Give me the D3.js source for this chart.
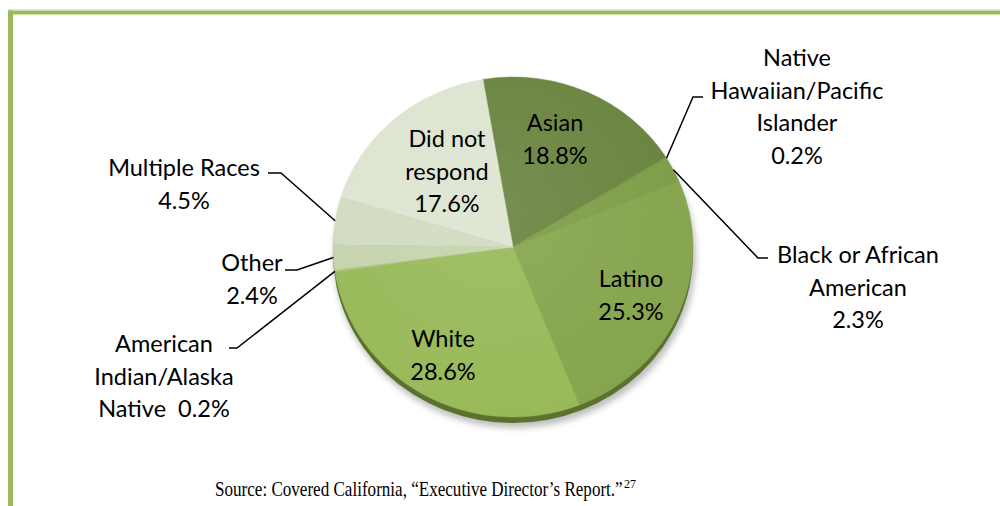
<!DOCTYPE html>
<html>
<head>
<meta charset="utf-8">
<script src="https://cdn.jsdelivr.net/npm/d3@7/dist/d3.min.js"></script>
<style>
  html, body { margin: 0; padding: 0; background: #ffffff; }
  svg { display: block; }
</style>
</head>
<body>
<svg id="chart" width="1000" height="506"></svg>
<script>
// ---- data ----
const categories = ["Asian", "Native Hawaiian/Pacific Islander", "Black or African American", "Latino", "White",
                    "American Indian/Alaska Native", "Other", "Multiple Races", "Did not respond"];
const values = [18.8, 0.2, 2.3, 25.3, 28.6, 0.2, 2.4, 4.5, 17.6];
const valueLabels = ["18.8%", "0.2%", "2.3%", "25.3%", "28.6%", "0.2%", "2.4%", "4.5%", "17.6%"];
const sourceText = "Source: Covered California, \u201cExecutive Director\u2019s Report.\u201d";
const sourceNote = "27";

// ---- styling / layout ----
const colors = ["#6b8541", "#7d9c49", "#7f9e4a", "#87a64f", "#9aba5b", "#a9c36f", "#c6d4ae", "#d1dcc1", "#dde5d1"];
const W = 1000, H = 506;
const cx = 513, cy = 247, rx = 180, ry = 170, depth = 6;
const startAngle = -9.6 * Math.PI / 180;
const fontFamily = "Lato, 'Open Sans', sans-serif";
const fontSize = 23.5;

// label layout: inside labels (lines with baselines) and outside labels with leader elbows
const labelLayout = {
  "Asian": { inside: true, x: 555, y: 131, lines: ["Asian", "18.8%"] },
  "Did not respond": { inside: true, x: 447, y: 147, lines: ["Did not", "respond", "17.6%"] },
  "Latino": { inside: true, x: 631, y: 287, lines: ["Latino", "25.3%"] },
  "White": { inside: true, x: 443, y: 347, lines: ["White", "28.6%"] },
  "Native Hawaiian/Pacific Islander": { x: 797, y: 66, lines: ["Native", "Hawaiian/Pacific", "Islander", "0.2%"], elbow: [[693, 97], [703, 97]] },
  "Black or African American": { x: 858, y: 263, lines: ["Black or African", "American", "2.3%"], elbow: [[758, 258], [768, 258]] },
  "Multiple Races": { x: 184, y: 176, lines: ["Multiple Races", "4.5%"], elbow: [[281, 173], [268, 173]] },
  "Other": { x: 252, y: 271, lines: ["Other", "2.4%"], elbow: [[297, 270], [285, 270]] },
  "American Indian/Alaska Native": { x: 164, y: 352, lines: ["American", "Indian/Alaska", "Native\u00a0 0.2%"], elbow: [[237, 348], [229, 348]] }
};
const lineGap = 32.5;

const svg = d3.select("#chart");
const defs = svg.append("defs");

// shadow filter
const f = defs.append("filter").attr("id", "shadow").attr("x", "-20%").attr("y", "-20%").attr("width", "140%").attr("height", "140%");
f.append("feGaussianBlur").attr("stdDeviation", 3);

// gentle lighting overlay
const rg = defs.append("radialGradient").attr("id", "shine")
  .attr("cx", "45%").attr("cy", "40%").attr("r", "65%");
rg.append("stop").attr("offset", "0%").attr("stop-color", "#ffffff").attr("stop-opacity", 0.08);
rg.append("stop").attr("offset", "80%").attr("stop-color", "#ffffff").attr("stop-opacity", 0.0);
rg.append("stop").attr("offset", "100%").attr("stop-color", "#000000").attr("stop-opacity", 0.03);

// ---- frame ----
svg.append("line").attr("x1", 8).attr("x2", W).attr("y1", 9.5).attr("y2", 9.5)
  .attr("stroke", "#dfe9cc").attr("stroke-width", 1);
svg.append("line").attr("x1", 8).attr("x2", W).attr("y1", 12.5).attr("y2", 12.5)
  .attr("stroke", "#9bbb59").attr("stroke-width", 4);
svg.append("line").attr("x1", 10.5).attr("x2", 10.5).attr("y1", 10.5).attr("y2", H)
  .attr("stroke", "#9bbb59").attr("stroke-width", 5);

// ---- pie ----
const data = categories.map((c, i) => ({ name: c, value: values[i], color: colors[i], label: valueLabels[i] }));
const pie = d3.pie().sort(null).value(d => d.value)
  .startAngle(startAngle).endAngle(startAngle + 2 * Math.PI);
const arcs = pie(data);
const arc = d3.arc().innerRadius(0).outerRadius(rx);
const k = ry / rx;

// drop shadow + side wall
svg.append("ellipse").attr("cx", cx + 2).attr("cy", cy + depth + 4).attr("rx", rx + 1).attr("ry", ry + 1)
  .attr("fill", "#000").attr("opacity", 0.25).attr("filter", "url(#shadow)");
svg.append("ellipse").attr("cx", cx).attr("cy", cy + depth).attr("rx", rx).attr("ry", ry)
  .attr("fill", "#5b722f");

const pieG = svg.append("g").attr("transform", `translate(${cx},${cy}) scale(1,${k})`);
pieG.selectAll("path.slice").data(arcs).enter().append("path")
  .attr("class", "slice")
  .attr("d", arc)
  .attr("fill", d => d.data.color)
  .attr("stroke", d => d.data.color)
  .attr("stroke-width", 0.5);
pieG.append("circle").attr("r", rx).attr("fill", "url(#shine)");

// ---- labels ----
function edgePoint(d) {
  const a = (d.startAngle + d.endAngle) / 2;
  return [cx + rx * Math.sin(a), cy - ry * Math.cos(a)];
}

const labelG = svg.append("g")
  .attr("font-family", fontFamily).attr("font-size", fontSize).attr("fill", "#000");

arcs.forEach(d => {
  const L = labelLayout[d.data.name];
  if (!L) return;
  const t = labelG.append("text").attr("text-anchor", "middle");
  L.lines.forEach((ln, i) => {
    t.append("tspan").attr("x", L.x).attr("y", L.y + i * lineGap).text(ln);
  });
  if (L.elbow) {
    const p = edgePoint(d);
    const pts = [p].concat(L.elbow);
    svg.append("path")
      .attr("d", d3.line()(pts))
      .attr("fill", "none").attr("stroke", "#000").attr("stroke-width", 1.5);
  }
});

// ---- source (condensed serif) ----
const srcX = 215, srcY = 496, srcWidth = 408;
const srcG = svg.append("g").attr("transform", `translate(${srcX},${srcY})`);
const src = srcG.append("text")
  .attr("x", 0).attr("y", 0)
  .attr("font-family", "'Liberation Serif', 'DejaVu Serif', serif")
  .attr("font-size", 21).attr("fill", "#000")
  .text(sourceText);
const natural = src.node().getComputedTextLength();
src.attr("transform", `scale(${srcWidth / natural},1)`);
svg.append("text")
  .attr("x", srcX + srcWidth + 1).attr("y", srcY - 8)
  .attr("font-family", "'Liberation Serif', 'DejaVu Serif', serif")
  .attr("font-size", 12).attr("fill", "#000")
  .text(sourceNote);
</script>
</body>
</html>
